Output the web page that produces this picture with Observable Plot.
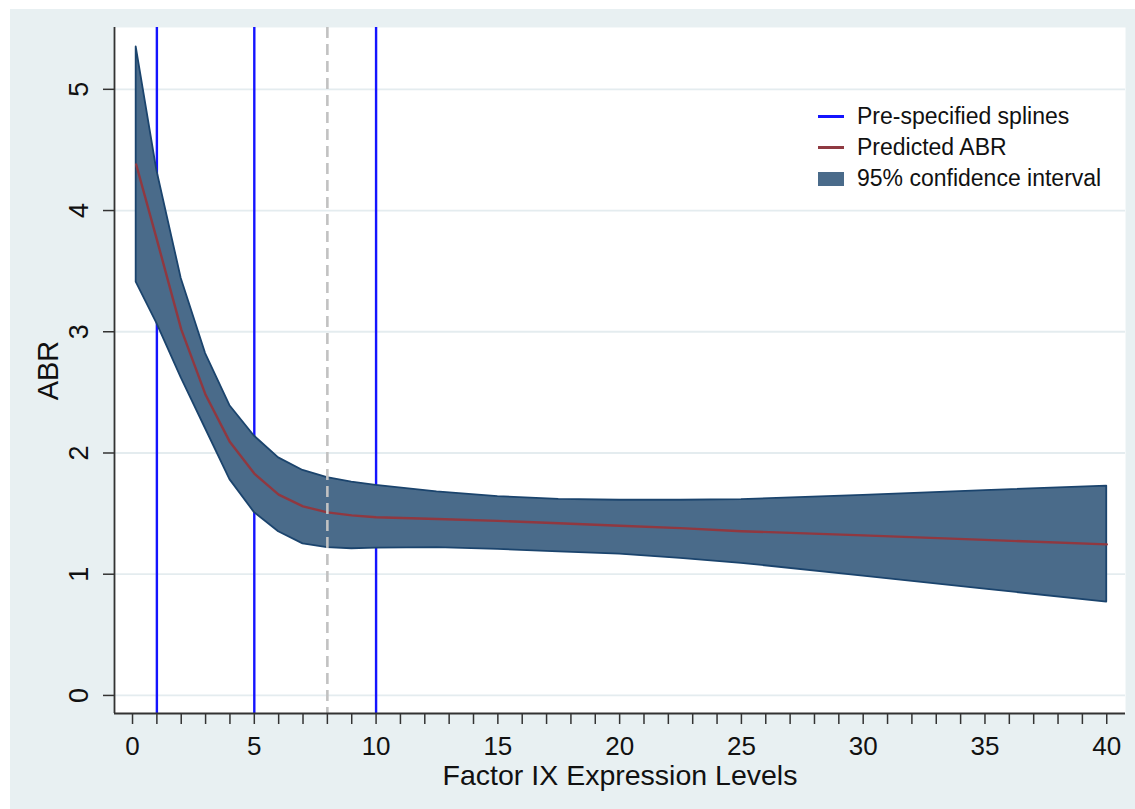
<!DOCTYPE html>
<html>
<head>
<meta charset="utf-8">
<script src="https://cdn.jsdelivr.net/npm/d3@7"></script>
<script src="https://cdn.jsdelivr.net/npm/@observablehq/plot@0.6"></script>
<style>
  html, body { margin: 0; padding: 0; background: #ffffff; }
  body { width: 1135px; height: 809px; position: relative; overflow: hidden; font-family: "Liberation Sans", Arial, Helvetica, sans-serif; }
  #bg { position: absolute; left: 10px; top: 9px; width: 1125px; height: 800px; background: #e8f0f2; }
  #chart { position: absolute; left: 0; top: 0; }
  #legend { position: absolute; left: 818px; top: 101px; font-size: 23px; color: #111; line-height: 31px; }
  #legend .row { display: flex; align-items: center; height: 31px; }
  #legend .key { width: 26px; margin-right: 13px; display: inline-block; }
</style>
</head>
<body>
<div id="bg"></div>
<div id="chart"></div>
<div id="legend"></div>
<script>
// ---- data ----
const factorIX = [0.15, 1, 2, 3, 4, 5, 6, 7, 8, 9, 10, 12.5, 15, 17.5, 20, 22.5, 25, 30, 35, 40];
const ciUpper  = [5.35, 4.33, 3.44, 2.82, 2.39, 2.14, 1.96, 1.856, 1.796, 1.76, 1.733, 1.68, 1.64, 1.617, 1.61, 1.61, 1.615, 1.65, 1.69, 1.727];
const ciLower  = [3.41, 3.07, 2.62, 2.20, 1.78, 1.51, 1.35, 1.25, 1.22, 1.21, 1.215, 1.22, 1.205, 1.185, 1.165, 1.13, 1.09, 0.985, 0.877, 0.77];
const predABR  = [4.38, 3.76, 3.02, 2.48, 2.09, 1.83, 1.656, 1.56, 1.51, 1.485, 1.47, 1.455, 1.44, 1.42, 1.40, 1.38, 1.355, 1.32, 1.283, 1.246];
const splineKnots = [1, 5, 10];
const referenceLine = [8];
const xMajorTicks = [0, 5, 10, 15, 20, 25, 30, 35, 40];
const xMinorTicks = d3.range(0, 41, 1);
const yTicks = [0, 1, 2, 3, 4, 5];
const xDomain = [-0.74, 40.77];
const yDomain = [-0.149, 5.51];
const legendItems = [
  {label: "Pre-specified splines", kind: "line", color: "#1414ff"},
  {label: "Predicted ABR", kind: "line", color: "#8f3a41"},
  {label: "95% confidence interval", kind: "box", color: "#4a6b8a"}
];

const rows = factorIX.map((x, i) => ({x, hi: ciUpper[i], lo: ciLower[i], pred: predABR[i]}));

const font = "Liberation Sans, Arial, Helvetica, sans-serif";

const chart = Plot.plot({
  width: 1135,
  height: 809,
  marginLeft: 114,
  marginRight: 10,
  marginTop: 27,
  marginBottom: 96,
  style: {background: "transparent", fontFamily: font, color: "#111"},
  x: {domain: xDomain, axis: null},
  y: {domain: yDomain, axis: null},
  marks: [
    Plot.frame({fill: "white", stroke: null}),
    Plot.gridY({ticks: yTicks, stroke: "#e4ecef", strokeOpacity: 1, strokeWidth: 1.8}),
    Plot.ruleX(splineKnots, {stroke: "#1414ff", strokeWidth: 2.4}),
    Plot.areaY(rows, {x: "x", y1: "lo", y2: "hi", fill: "#4a6b8a", stroke: "#1b446d", strokeWidth: 1.8, curve: "linear"}),
    Plot.lineY(rows, {x: "x", y: "pred", stroke: "#903840", strokeWidth: 2.4, curve: "linear"}),
    Plot.ruleX(referenceLine, {stroke: "#c2c2c2", strokeWidth: 2.6, strokeDasharray: "11,6"}),
    // axis lines
    Plot.ruleY([yDomain[0]], {stroke: "#333", strokeWidth: 1.8}),
    Plot.ruleX([xDomain[0]], {stroke: "#333", strokeWidth: 1.8}),
    // ticks
    Plot.axisX({ticks: xMinorTicks, tickSize: 11, tickFormat: () => "", stroke: "#333", strokeWidth: 1.5, label: null}),
    Plot.axisY({ticks: yTicks, tickSize: 11, tickFormat: () => "", stroke: "#333", strokeWidth: 1.5, label: null}),
    // tick labels
    Plot.text(xMajorTicks, {x: d => d, text: d => String(d), frameAnchor: "bottom", dy: 33, fontSize: 26, lineAnchor: "middle", fill: "#111"}),
    Plot.text(yTicks, {y: d => d, text: d => String(d), frameAnchor: "left", dx: -35, rotate: -90, fontSize: 27, lineAnchor: "middle", textAnchor: "middle", fill: "#111"}),
    // axis titles
    Plot.text(["Factor IX Expression Levels"], {text: d => d, frameAnchor: "bottom", dy: 62, fontSize: 28.5, lineAnchor: "middle", fill: "#111"}),
    Plot.text(["ABR"], {text: d => d, frameAnchor: "left", dx: -66, rotate: -90, fontSize: 29, lineAnchor: "middle", textAnchor: "middle", fill: "#111"})
  ]
});
document.getElementById("chart").appendChild(chart);

const legend = document.getElementById("legend");
for (const item of legendItems) {
  const row = document.createElement("div");
  row.className = "row";
  const key = document.createElement("span");
  key.className = "key";
  key.style.background = item.color;
  key.style.height = item.kind === "line" ? "2.5px" : "14px";
  const label = document.createElement("span");
  label.textContent = item.label;
  row.appendChild(key);
  row.appendChild(label);
  legend.appendChild(row);
}
</script>
</body>
</html>
